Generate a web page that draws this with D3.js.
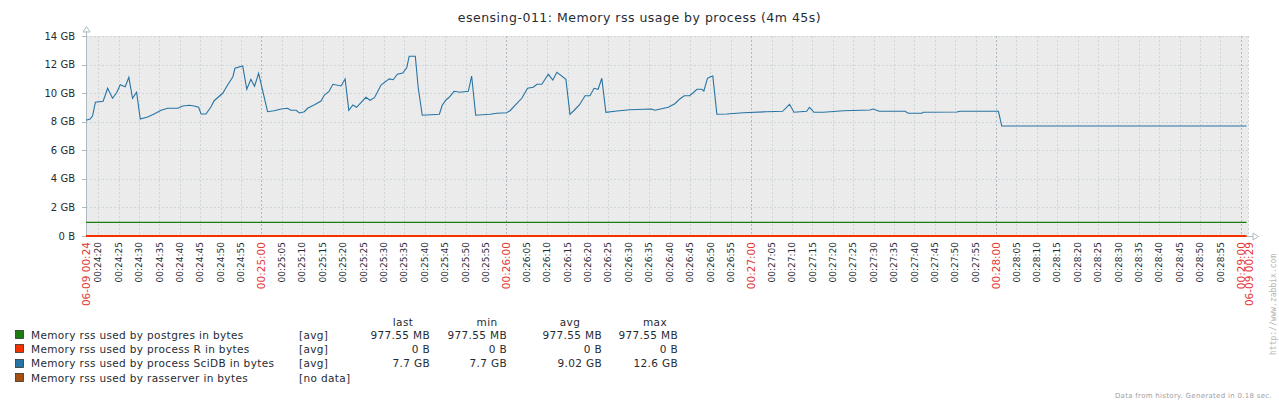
<!DOCTYPE html>
<html><head><meta charset="utf-8">
<script src="https://cdn.jsdelivr.net/npm/d3@7"></script>
<style>
html,body{margin:0;padding:0;background:#fff;}
svg{display:block;font-family:"DejaVu Sans",sans-serif;}
</style></head>
<body>
<script>
// ---- data ----
const chartTitle = "esensing-011: Memory rss usage by process (4m 45s)";
const dateLabelStart = "06-09 00:24";
const dateLabelEnd = "06-09 00:29";
const rangeStartSec = 17;     // 00:24:17
const rangeEndSec = 302;      // 00:29:02 (4m 45s)
// seconds after 00:24:00
const scidbSecs = [17.0,18.0,18.6,19.3,21.2,22.3,23.5,24.5,25.4,26.6,27.5,28.4,29.4,30.3,32.1,33.7,35.4,37.0,39.5,40.7,42.3,43.5,44.6,45.2,46.4,47.6,48.4,50.5,51.7,53.0,53.5,55.4,56.4,57.4,58.3,59.3,61.5,63.1,64.8,66.4,67.2,68.5,69.3,70.5,71.3,73.0,74.6,75.4,76.5,77.5,79.5,80.5,81.4,82.4,83.3,85.6,86.6,87.7,89.3,91.3,92.3,93.3,94.6,95.6,96.2,97.7,98.4,99.4,103.6,104.3,105.2,106.0,107.2,108.7,110.7,111.5,112.5,116.0,117.7,120.1,120.9,122.6,123.8,125.2,126.6,127.5,128.7,130.3,131.4,132.4,134.6,135.6,136.7,137.9,139.3,140.5,141.5,142.5,143.4,144.4,147.1,150.3,155.6,156.4,159.7,161.3,162.6,163.6,164.9,165.8,166.7,167.9,168.4,169.3,169.9,170.6,171.6,174.0,178.1,183.8,187.7,189.4,190.5,193.6,194.3,195.4,197.7,202.6,209.1,209.9,211.4,217.7,218.5,221.8,222.2,230.4,231.2,240.6,241.4,301.4];
// GB
const scidbVals = [8.10,8.19,8.40,9.36,9.43,10.34,9.64,10.03,10.59,10.45,11.11,9.64,10.06,8.19,8.33,8.54,8.80,8.94,8.94,9.10,9.15,9.10,9.01,8.54,8.54,9.03,9.47,9.99,10.57,11.15,11.74,11.90,10.27,10.97,10.48,11.39,8.70,8.77,8.89,8.94,8.80,8.80,8.61,8.70,8.94,9.19,9.45,9.87,10.10,10.62,10.50,11.00,8.80,9.17,9.01,9.71,9.50,9.68,10.57,11.00,10.94,11.32,11.41,11.78,12.58,12.58,10.41,8.45,8.52,9.15,9.52,9.71,10.13,10.06,10.13,11.20,8.45,8.52,8.59,8.63,8.77,9.29,9.64,10.34,10.41,10.62,10.62,11.32,10.92,11.46,10.97,8.52,8.82,9.17,9.82,9.82,10.34,10.27,11.04,8.66,8.75,8.84,8.89,8.80,9.01,9.26,9.61,9.82,9.82,10.03,10.27,10.27,10.15,11.04,11.13,11.20,8.52,8.54,8.63,8.70,8.73,9.22,8.66,8.73,9.01,8.66,8.66,8.77,8.82,8.89,8.73,8.73,8.59,8.59,8.66,8.68,8.73,8.73,7.70,7.70];
const postgresSecs = [17.0, 301.4];
const postgresVals = [0.9546, 0.9546];   // 977.55 MB
const rSecs = [17.0, 301.4];
const rVals = [0, 0];
const yTicks = [0,2,4,6,8,10,12,14];
const legendNames = ["Memory rss used by postgres in bytes","Memory rss used by process R in bytes","Memory rss used by process SciDB in bytes","Memory rss used by rasserver in bytes"];
const legendFuncs = ["[avg]","[avg]","[avg]","[no data]"];
const legendColors = ["#1A7C11","#F63100","#2774A4","#A54F10"];
const statHeaders = ["last","min","avg","max"];
const statLast = ["977.55 MB","0 B","7.7 GB",""];
const statMin  = ["977.55 MB","0 B","7.7 GB",""];
const statAvg  = ["977.55 MB","0 B","9.02 GB",""];
const statMax  = ["977.55 MB","0 B","12.6 GB",""];
const footerText = "Data from history. Generated in 0.18 sec.";
const urlText = "http://www.zabbix.com";

// ---- layout ----
const W = 1279, H = 404;
const L = 86, R = 1248.5, T = 36, B = 236;
const textCol = "#1f2c33", gridCol = "#ccd5d9", mainGridCol = "#acbbc2", redCol = "#e33734";

const base = new Date(2016,5,9,0,24,0);
const toDate = s => new Date(base.getTime() + s*1000);

const x = d3.scaleTime().domain([toDate(rangeStartSec), toDate(rangeEndSec)]).range([L, 1249]);
const y = d3.scaleLinear().domain([0,14]).range([B, T]);

const svg = d3.select("body").append("svg").attr("width", W).attr("height", H);

svg.append("text").attr("x", 639.5).attr("y", 18).attr("text-anchor","middle").attr("dy","0.35em")
  .attr("font-size", 12.5).attr("letter-spacing", 0.5).attr("fill", textCol).text(chartTitle);

svg.append("rect").attr("x", L).attr("y", T).attr("width", R-L).attr("height", B-T).attr("fill", "#ebebeb");

const cr = v => Math.round(v) + 0.5;

// horizontal grid
svg.append("g").selectAll("line").data(yTicks.filter(d => d > 0)).join("line")
  .attr("x1", L).attr("x2", R).attr("y1", d => cr(y(d))).attr("y2", d => cr(y(d)))
  .attr("stroke", gridCol).attr("stroke-dasharray", "2,2");

// vertical grid, every 5 s
const xTicks = d3.timeSecond.every(5).range(toDate(20), toDate(300.5));
svg.append("g").selectAll("line").data(xTicks).join("line")
  .attr("x1", d => cr(x(d))).attr("x2", d => cr(x(d))).attr("y1", T).attr("y2", B)
  .attr("stroke", d => d.getSeconds() === 0 ? mainGridCol : gridCol).attr("stroke-dasharray", "2,2");
svg.append("line").attr("x1", R).attr("x2", R).attr("y1", T).attr("y2", B)
  .attr("stroke", gridCol).attr("stroke-dasharray", "2,2");

// y labels & ticks
const yl = svg.append("g");
yl.selectAll("text").data(yTicks).join("text")
  .attr("x", 75).attr("y", d => y(d)).attr("dy", "0.35em").attr("text-anchor", "end")
  .attr("font-size", 10).attr("fill", textCol).text(d => d === 0 ? "0 B" : d + " GB");
yl.selectAll("line").data(yTicks).join("line")
  .attr("x1", 82).attr("x2", L).attr("y1", d => cr(y(d))).attr("y2", d => cr(y(d)))
  .attr("stroke", mainGridCol);

// x labels
const fmt = d3.timeFormat("%H:%M:%S");
svg.append("g").selectAll("text").data(xTicks).join("text")
  .attr("transform", d => `translate(${x(d)},242) rotate(-90)`)
  .attr("text-anchor", "end").attr("dy", "0.35em")
  .attr("font-size", d => d.getSeconds() === 0 ? 10.5 : 9)
  .attr("fill", d => d.getSeconds() === 0 ? redCol : textCol)
  .text(fmt);
svg.append("g").selectAll("text").data([[rangeStartSec, dateLabelStart],[rangeEndSec, dateLabelEnd]]).join("text")
  .attr("transform", d => `translate(${x(toDate(d[0]))},242) rotate(-90)`)
  .attr("text-anchor", "end").attr("dy", "0.35em").attr("font-size", 10.5).attr("fill", redCol)
  .text(d => d[1]);

// axes
svg.append("line").attr("x1", L+0.5).attr("x2", L+0.5).attr("y1", 31).attr("y2", B+0.5).attr("stroke", mainGridCol);
svg.append("path").attr("d", `M${L+0.5},26.5 L${L-3},32 L${L+4},32 Z`).attr("fill","none").attr("stroke", mainGridCol);
svg.append("line").attr("x1", L).attr("x2", 1253).attr("y1", B+0.5).attr("y2", B+0.5).attr("stroke", mainGridCol);
svg.append("path").attr("d", `M1258.5,${B+0.5} L1253,${B-3} L1253,${B+4} Z`).attr("fill","none").attr("stroke", mainGridCol);

// series
const line = d3.line().x(d => x(toDate(d[0]))).y(d => y(d[1]));
const series = [
  {secs: postgresSecs, vals: postgresVals, color: legendColors[0], w: 1.1},
  {secs: scidbSecs, vals: scidbVals, color: legendColors[2], w: 1.1},
  {secs: rSecs, vals: rVals, color: legendColors[1], w: 2}
];
svg.append("g").selectAll("path").data(series).join("path")
  .attr("d", s => line(s.secs.map((t,i) => [t, s.vals[i]])))
  .attr("fill", "none").attr("stroke", s => s.color).attr("stroke-width", s => s.w);

// legend
const rowY = [335, 349.3, 363.6, 378];
const lg = svg.append("g").attr("font-size", 10.5).attr("letter-spacing", 0.35).attr("fill", textCol);
lg.selectAll("rect").data(legendColors).join("rect")
  .attr("x", 15.5).attr("y", (d,i) => Math.round(rowY[i]) - 4.5).attr("width", 8).attr("height", 8)
  .attr("fill", d => d).attr("stroke", "#333").attr("stroke-width", 0.8);
lg.selectAll("text.name").data(legendNames).join("text").attr("class","name")
  .attr("x", 31).attr("y", (d,i) => rowY[i]).attr("dy","0.35em").text(d => d);
lg.selectAll("text.fn").data(legendFuncs).join("text").attr("class","fn")
  .attr("x", 299).attr("y", (d,i) => rowY[i]).attr("dy","0.35em").text(d => d);
const headX = [403, 487, 570, 655];
lg.selectAll("text.hd").data(statHeaders).join("text").attr("class","hd")
  .attr("x", (d,i) => headX[i]).attr("y", 322).attr("dy","0.35em").attr("text-anchor","middle").text(d => d);
const colX = [430, 507, 602, 678];
[statLast, statMin, statAvg, statMax].forEach((col, c) => {
  lg.append("g").selectAll("text").data(col).join("text")
    .attr("x", colX[c]).attr("y", (d,i) => rowY[i]).attr("dy","0.35em").attr("text-anchor","end").text(d => d);
});

// footer & url
svg.append("text").attr("x", 1272).attr("y", 395.5).attr("dy","0.35em").attr("text-anchor","end")
  .attr("font-size", 7).attr("letter-spacing", 0.3).attr("fill", "#a0a0a0").text(footerText);
svg.append("text").attr("transform", "translate(1273,355) rotate(-90)").attr("dy","0.35em")
  .attr("font-family", "DejaVu Sans Mono").attr("font-size", 8).attr("fill", "#b4b4b4").text(urlText);
</script>
</body></html>
